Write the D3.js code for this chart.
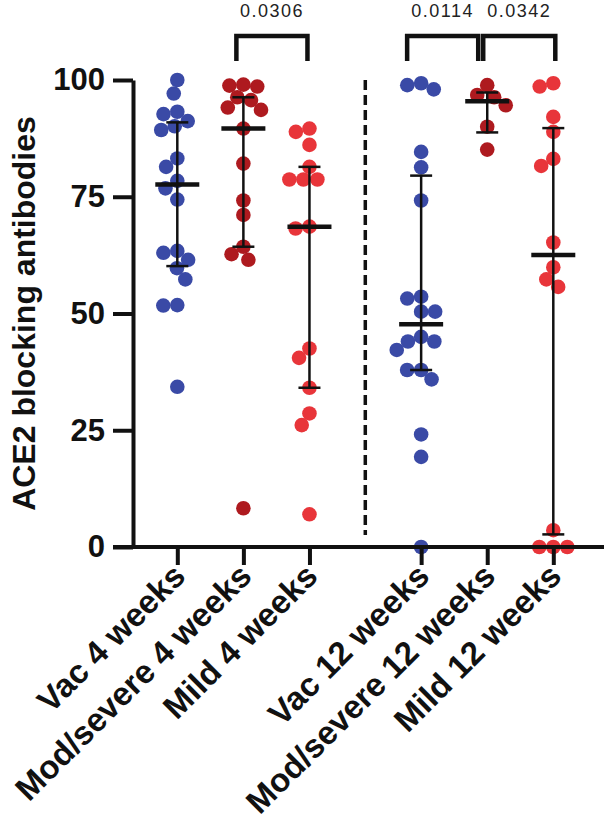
<!DOCTYPE html>
<html><head><meta charset="utf-8">
<script src="https://cdn.jsdelivr.net/npm/d3@7"></script>
<style>html,body{margin:0;padding:0;background:#fff;} svg{display:block;}</style>
</head><body>
<svg id="chart" width="604" height="829"></svg>
<script>
// ---------- data ----------
const categories = ["Vac 4 weeks","Mod/severe 4 weeks","Mild 4 weeks","Vac 12 weeks","Mod/severe 12 weeks","Mild 12 weeks"];
const groupColors = ["#3a4aa6","#ae1a1f","#e8353a","#3a4aa6","#ae1a1f","#e8353a"];
const vac4 = [100, 97.1, 93.2, 92.7, 91.2, 90.1, 89.3, 83.2, 81.4, 78.4, 76.8, 74.4, 63.4, 63.0, 61.5, 59.7, 57.3, 51.8, 51.7, 34.3];
const modSevere4 = [99.0, 98.8, 98.6, 96.3, 95.7, 94.1, 93.6, 89.6, 82.1, 74.2, 71.1, 64.3, 62.7, 61.5, 8.3];
const mild4 = [89.6, 88.9, 86.1, 81.4, 78.7, 78.7, 78.7, 68.6, 68.2, 42.5, 40.5, 34.1, 28.6, 26.1, 7.0];
const vac12 = [99.3, 98.9, 98.0, 84.6, 81.3, 74.2, 53.6, 53.2, 50.4, 50.4, 45.0, 44.0, 44.0, 42.2, 37.9, 37.9, 35.9, 24.1, 19.3, 0];
const modSevere12 = [98.9, 96.8, 96.3, 94.6, 90.0, 85.1];
const mild12 = [99.3, 98.6, 92.1, 88.9, 83.1, 81.6, 65.2, 59.9, 57.3, 55.7, 3.6, 0, 0, 0];
const groups = [vac4, modSevere4, mild4, vac12, modSevere12, mild12];
const yTicks = [0, 25, 50, 75, 100];
const yTitle = "ACE2 blocking antibodies";
const comparisons = [
  {a: 1, b: 2, p: "0.0306"},
  {a: 3, b: 4, p: "0.0114"},
  {a: 4, b: 5, p: "0.0342"}
];

// ---------- layout ----------
const svg = d3.select("#chart");
const FONT = "'Liberation Sans', Arial, Helvetica, sans-serif";
const axisX0 = 133, plotRight = 604;
const gap = 0.69; // extra space between the two blocks
const pos = categories.map((c, i) => i + (i >= 3 ? gap : 0));
const x = d3.scaleLinear().domain([0, 5 + gap]).range([177.3, 553.3]);
const y = d3.scaleLinear().domain([0, 100]).range([547, 80]);
const R = 7.3;

// R-6 quantile (GraphPad style)
function q6(s, p) {
  const n = s.length, h = (n + 1) * p, k = Math.floor(h);
  if (k < 1) return s[0];
  if (k >= n) return s[n - 1];
  return s[k - 1] + (h - k) * (s[k] - s[k - 1]);
}

// simple beeswarm
function swarm(vals, D) {
  const placed = [];
  const order = vals.map((v, i) => i).sort((a, b) => vals[b] - vals[a]);
  const out = new Array(vals.length);
  order.forEach(i => {
    const py = y(vals[i]);
    const ints = [];
    placed.forEach(p => {
      const dy = Math.abs(p.y - py);
      if (dy < D) { const h = Math.sqrt(D * D - dy * dy); ints.push([p.x - h, p.x + h]); }
    });
    const cands = [0];
    ints.forEach(iv => { cands.push(iv[0], iv[1]); });
    cands.sort((a, b) => Math.abs(a) - Math.abs(b) || a - b);
    let best = 0;
    for (const c of cands) {
      if (!ints.some(iv => c > iv[0] + 1e-6 && c < iv[1] - 1e-6)) { best = c; break; }
    }
    placed.push({x: best, y: py});
    out[i] = best;
  });
  return out;
}

// dashed separator
svg.append("line")
  .attr("x1", (x(pos[2]) + x(pos[3])) / 2).attr("x2", (x(pos[2]) + x(pos[3])) / 2)
  .attr("y1", y(100)).attr("y2", y(0) - 12)
  .attr("stroke", "#111").attr("stroke-width", 3.5).attr("stroke-dasharray", "10,5");

// dots
groups.forEach((vals, gi) => {
  const offs = swarm(vals, 14);
  const cx = x(pos[gi]);
  svg.append("g").selectAll("circle").data(vals).join("circle")
    .attr("cx", (d, i) => cx + offs[i])
    .attr("cy", d => y(d))
    .attr("r", R)
    .attr("fill", groupColors[gi]);
});

// median + IQR
groups.forEach((vals, gi) => {
  const s = vals.slice().sort((a, b) => a - b);
  const med = q6(s, 0.5), lo = q6(s, 0.25), hi = q6(s, 0.75);
  const cx = x(pos[gi]);
  const g = svg.append("g").attr("stroke", "#111");
  g.append("line").attr("x1", cx).attr("x2", cx).attr("y1", y(lo)).attr("y2", y(hi)).attr("stroke-width", 2.5);
  [lo, hi].forEach(v => g.append("line").attr("x1", cx - 11).attr("x2", cx + 11).attr("y1", y(v)).attr("y2", y(v)).attr("stroke-width", 2.5));
  g.append("line").attr("x1", cx - 22).attr("x2", cx + 22).attr("y1", y(med)).attr("y2", y(med)).attr("stroke-width", 4.5);
});

// y axis
const yAxis = svg.append("g").attr("transform", `translate(${axisX0},0)`)
  .call(d3.axisLeft(y).tickValues(yTicks).tickSize(20).tickSizeOuter(0).tickPadding(8));
yAxis.select(".domain").attr("stroke", "#111").attr("stroke-width", 4);
yAxis.selectAll(".tick line").attr("stroke", "#111").attr("stroke-width", 4);
yAxis.selectAll(".tick text").attr("font-family", FONT).attr("font-weight", "bold")
  .attr("font-size", 31).attr("fill", "#111");

// x axis
svg.append("line").attr("x1", axisX0 - 20).attr("x2", plotRight).attr("y1", y(0)).attr("y2", y(0))
  .attr("stroke", "#111").attr("stroke-width", 4);
const xAxis = svg.append("g").attr("transform", `translate(0,${y(0)})`)
  .call(d3.axisBottom(x).tickValues(pos).tickSize(18).tickFormat(""));
xAxis.select(".domain").remove();
xAxis.selectAll(".tick line").attr("stroke", "#111").attr("stroke-width", 4);

// x labels
svg.append("g").selectAll("text").data(categories).join("text")
  .attr("transform", (d, i) => `translate(${x(pos[i]) + 10},${578}) rotate(-45)`)
  .attr("text-anchor", "end")
  .attr("font-family", FONT).attr("font-weight", "bold").attr("font-size", 33).attr("fill", "#111")
  .text(d => d);

// y title
svg.append("text")
  .attr("transform", `translate(35,${(y(0) + y(100)) / 2}) rotate(-90)`)
  .attr("text-anchor", "middle")
  .attr("font-family", FONT).attr("font-weight", "bold").attr("font-size", 32).attr("fill", "#111")
  .text(yTitle);

// significance brackets
const legShift = [[-7, -2], [-14, -9], [-4, 2]];
comparisons.forEach((c, k) => {
  const x1 = x(pos[c.a]) + legShift[k][0], x2 = x(pos[c.b]) + legShift[k][1];
  const top = 36, bot = 61;
  svg.append("path").attr("d", `M${x1},${bot}V${top}H${x2}V${bot}`)
    .attr("fill", "none").attr("stroke", "#111").attr("stroke-width", 4.5);
  svg.append("text").attr("x", (x1 + x2) / 2).attr("y", 17)
    .attr("text-anchor", "middle").attr("font-family", FONT).attr("font-size", 18)
    .attr("letter-spacing", 1.5).attr("fill", "#222").text(c.p);
});
</script>
</body></html>
